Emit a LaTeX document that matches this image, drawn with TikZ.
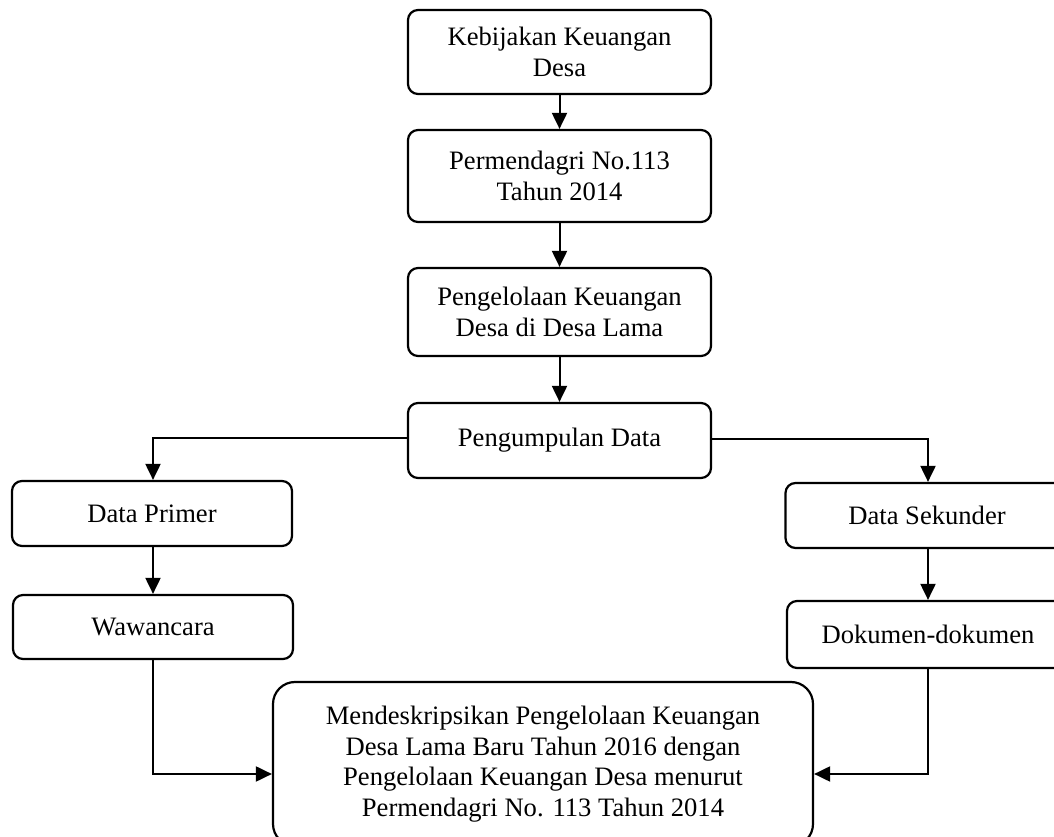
\documentclass[tikz,border=0pt]{standalone}
\usepackage{fontspec}
\setmainfont{Liberation Serif}
\usetikzlibrary{arrows.meta}
\begin{document}
\begin{tikzpicture}[x=1pt,y=1pt,
  box/.style={draw=black, line width=2.2pt, rounded corners=10pt, align=center,
    inner sep=0pt, font=\fontsize{26.6}{30.5}\selectfont},
  bigbox/.style={box, rounded corners=22pt},
  conn/.style={line width=2pt, -{Triangle[length=16pt,width=15pt]}}]
\clip (0,0) rectangle (1054,837);
\fill[white] (0,0) rectangle (1054,837);

\node[box, minimum width=303pt, minimum height=84pt] (b1) at (559.5,785) {Kebijakan Keuangan\\Desa};
\node[box, minimum width=303pt, minimum height=92pt] (b2) at (559.5,661) {Permendagri No.113\\Tahun 2014};
\node[box, minimum width=303pt, minimum height=88pt] (b3) at (559.5,525) {Pengelolaan Keuangan\\Desa di Desa Lama};
\node[box, minimum width=303pt, minimum height=75pt] (b4) at (559.5,396.5) {\raisebox{7pt}{Pengumpulan Data}};
\node[box, minimum width=280pt, minimum height=65pt] (b5) at (152,323.5) {Data Primer};
\node[box, minimum width=280pt, minimum height=64pt] (b7) at (153,210) {Wawancara};
\node[box, minimum width=283pt, minimum height=65pt] (b6) at (927,321.5) {Data Sekunder};
\node[box, minimum width=282pt, minimum height=67pt] (b8) at (928,202.5) {Dokumen-dokumen};
\node[bigbox, minimum width=540pt, minimum height=164pt] (b9) at (543,73) {Mendeskripsikan Pengelolaan Keuangan\\Desa Lama Baru Tahun 2016 dengan\\Pengelolaan Keuangan Desa menurut\\Permendagri No. 113 Tahun 2014};

\draw[conn] (b1.south) -- (b2.north);
\draw[conn] (b2.south) -- (b3.north);
\draw[conn] (b3.south) -- (b4.north);
\draw[conn] ([yshift=2pt]b4.west) -| ([xshift=1pt]b5.north);
\draw[conn] ([yshift=1pt]b4.east) -| ([xshift=1pt]b6.north);
\draw[conn] (b5.south -| b7.north) -- (b7.north);
\draw[conn] (b6.south -| b8.north) -- (b8.north);
\draw[conn] (b7.south) |- ([yshift=-10pt]b9.west);
\draw[conn] (b8.south) |- ([yshift=-10pt]b9.east);
\end{tikzpicture}
\end{document}
